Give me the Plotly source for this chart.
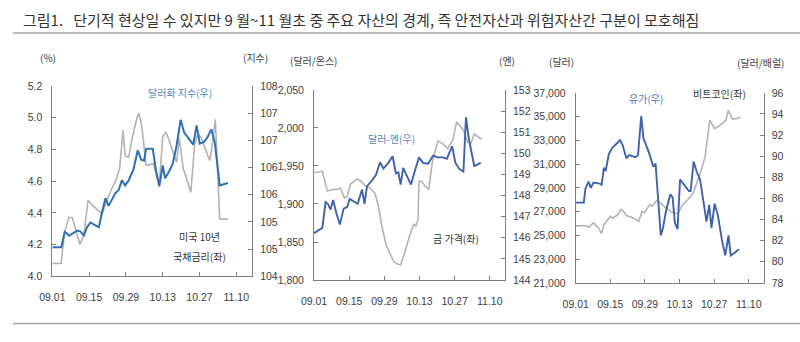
import plotly.graph_objects as go

# ---------------- data (x = days since 2023-09-01) ----------------
ust_days = [0, 3.3, 4.7, 6.3, 7.6, 8.8, 10.5, 12, 13.6, 15.1, 17, 18.9, 20.8, 22, 24, 25.6, 26.9, 27.7, 29,
            30.6, 32.2, 32.9, 34, 35.7, 38.5, 39.5, 40.7, 42, 43.3, 44.8, 46, 47.3, 48.3, 49.8, 51.4, 52.7,
            54.2, 55.5, 56.7, 58.4, 59.9, 60.8, 62, 63.7, 66.8]
ust_10y = [4.08, 4.08, 4.28, 4.37, 4.37, 4.30, 4.20, 4.26, 4.48, 4.45, 4.42, 4.39, 4.48, 4.53, 4.60, 4.68, 4.92,
           4.76, 4.75, 4.89, 5.00, 5.03, 4.95, 4.70, 4.71, 4.64, 4.58, 4.88, 4.91, 4.84, 4.78, 4.72, 4.87, 4.68,
           4.60, 4.53, 4.84, 4.90, 4.87, 4.80, 4.73, 4.82, 4.99, 4.36, 4.36]

dxy_days = [0, 3.4, 4.7, 5.5, 6.3, 7.6, 9.5, 10.7, 12, 13.2, 14.5, 16.4, 17.7, 18.9, 20.2, 21.4, 22.7, 24, 25.2,
            26.5, 27.7, 29, 30.9, 32.5, 33.8, 34.9, 35.7, 38.2, 39.5, 40.7, 42, 42.9, 44.2, 45.8, 47.3, 48.8,
            50.2, 51.7, 53.6, 54.9, 56.1, 57.6, 59, 60.5, 61.8, 63.7, 65.2, 66.8]
dxy = [104.61, 104.61, 104.93, 104.90, 104.85, 104.90, 104.96, 104.94, 104.86, 105.03, 105.13, 105.07, 105.03,
       105.34, 105.64, 105.48, 105.61, 105.75, 105.81, 106.02, 105.91, 106.01, 106.25, 106.65, 106.45, 106.43,
       106.68, 106.68, 106.21, 105.89, 106.33, 106.06, 106.18, 106.36, 106.75, 107.29, 107.02, 106.90, 106.77,
       107.17, 106.79, 106.82, 106.92, 107.09, 106.82, 105.91, 105.93, 105.96]

gold_days = [0, 3.3, 5.3, 7.2, 9.2, 10.5, 12.1, 13.2, 14.5, 17.1, 18.8, 20.4, 22.4, 24.3, 25.7, 27, 28.7, 30.3,
             31.8, 33.2, 34.5, 36.2, 38.2, 39.7, 40.5, 41.4, 41.8, 42.8, 44.1, 45.7, 47.1, 49.3, 51.3, 53.3,
             55.3, 56.8, 59.5, 61.2, 62.5, 63.8, 66.8]
gold = [1941, 1943, 1917, 1919, 1919, 1921, 1908, 1910, 1926, 1933, 1930, 1924, 1921, 1914, 1896, 1871, 1846,
        1834, 1824, 1821, 1820, 1837, 1860, 1873, 1871, 1879, 1930, 1930, 1924, 1919, 1955, 1983, 1979, 1973,
        1985, 2008, 1997, 1981, 1980, 1992, 1985]

jpy_days = [0, 3.3, 4.6, 5.5, 6.6, 7.6, 8.9, 10.3, 11.8, 13.2, 14.2, 15.8, 17.4, 19.1, 20.1, 21.1, 23, 24.7,
            26.3, 27.6, 29.6, 31.3, 32.6, 33.6, 34.5, 35.5, 36.8, 38.6, 39.7, 41.8, 43.4, 45.4, 47.4, 49.3,
            51.3, 52.9, 55, 56.3, 57.9, 59.5, 60.5, 61.6, 63.8, 66.4]
usdjpy = [146.22, 146.47, 147.69, 147.61, 147.34, 147.79, 147.16, 146.63, 147.38, 147.46, 147.84, 147.72,
          147.61, 148.29, 147.61, 148.45, 148.70, 148.98, 149.58, 149.28, 149.55, 149.86, 149.05, 149.10,
          148.52, 149.31, 148.98, 148.52, 148.98, 149.81, 149.55, 149.51, 149.89, 149.81, 149.81, 149.74,
          150.34, 149.55, 149.25, 149.13, 151.71, 150.72, 149.40, 149.55]

btc_days = [0, 3.3, 5.2, 7.2, 9.1, 10.5, 11.4, 12.7, 14, 15, 17, 18.3, 19.2, 20.5, 22.9, 25.5, 26.8, 27.8, 30,
            31, 32.7, 34.6, 36.6, 38.5, 40.1, 41.4, 43.1, 45.7, 47.7, 49, 50.5, 52.3, 54.2, 56.2, 58.2, 60.8,
            61.7, 63.4, 65.3, 66.7]
bitcoin = [25785, 25834, 25700, 26050, 25650, 25160, 25915, 26240, 26600, 26465, 26730, 27190, 27060, 26680,
           26510, 26190, 27000, 26925, 27590, 27455, 27940, 27670, 27270, 27000, 26870, 26870, 27540, 28080,
           28620, 29430, 30300, 31590, 34700, 33980, 34245, 34700, 35520, 34790, 34840, 34970]

oil_days = [0, 3.3, 3.9, 5.2, 6.1, 7.2, 9.8, 10.5, 11.4, 12.1, 13.4, 14.8, 17, 17.9, 18.9, 20.5, 21.6, 24.2,
            25.2, 26.5, 27.4, 29.4, 31.4, 32.3, 34.4, 35.3, 36.6, 38.3, 39.2, 40.1, 41.2, 42.2, 45.8, 46.5,
            47.7, 49, 50.3, 51.6, 52.9, 54, 54.9, 56.2, 57.5, 59.2, 60.5, 61.8, 62.7, 64.6, 66]
oil = [85.6, 85.6, 86.9, 87.6, 87.0, 87.5, 87.4, 87.3, 88.9, 88.6, 90.2, 90.8, 91.3, 91.5, 91.1, 89.8, 90.1,
       89.9, 90.1, 93.8, 91.7, 90.5, 89.0, 89.3, 82.5, 83.2, 84.9, 86.4, 86.1, 83.7, 83.1, 87.8, 86.7, 86.7,
       89.5, 88.5, 87.8, 86.0, 83.8, 85.4, 83.2, 85.5, 84.4, 82.0, 80.6, 82.5, 80.6, 80.9, 81.2]

x_tick_days = [0, 14, 28, 42, 56, 70]
x_tick_text = ["09.01", "09.15", "09.29", "10.13", "10.27", "11.10"]

dxy_tick_text = ["104", "105", "105", "106", "106", "107", "107", "108"]

# ---------------- styling ----------------
W, H = 800, 342
GRAY = "#b3b3b3"
BLUE1 = "#2f6fb3"
BLUE2 = "#3f63a8"
AX = "#7f7f7f"
TXT = "#404040"
NUM_FONT = "Liberation Sans Narrow, Liberation Sans, Arial"
KR_FONT = "Noto Sans CJK KR, Noto Sans"

# right axis of panel 1: 104 → 108 split into 7 equal intervals
dxy_min, dxy_max = 104, 108
dxy_ticks = [dxy_min + i * (dxy_max - dxy_min) / 7 for i in range(8)]


def px(x):
    return x / W


def py(y):
    return 1 - y / H


fig = go.Figure()

fig.add_trace(go.Scatter(x=ust_days, y=ust_10y, mode="lines", line=dict(color=GRAY, width=1.6),
                         xaxis="x", yaxis="y"))
fig.add_trace(go.Scatter(x=dxy_days, y=dxy, mode="lines", line=dict(color=BLUE1, width=2),
                         xaxis="x", yaxis="y2"))
fig.add_trace(go.Scatter(x=gold_days, y=gold, mode="lines", line=dict(color=GRAY, width=1.6),
                         xaxis="x2", yaxis="y3"))
fig.add_trace(go.Scatter(x=jpy_days, y=usdjpy, mode="lines", line=dict(color=BLUE2, width=1.9),
                         xaxis="x2", yaxis="y4"))
fig.add_trace(go.Scatter(x=btc_days, y=bitcoin, mode="lines", line=dict(color=GRAY, width=1.6),
                         xaxis="x3", yaxis="y5"))
fig.add_trace(go.Scatter(x=oil_days, y=oil, mode="lines", line=dict(color=BLUE2, width=1.9),
                         xaxis="x3", yaxis="y6"))

common_ax = dict(showline=True, linecolor=AX, linewidth=1, ticks="inside", ticklen=4, tickcolor=AX,
                 showgrid=False, zeroline=False, tickfont=dict(family=NUM_FONT, size=10.5, color=TXT))

panels = [
    dict(x0=40, x1=243, y0=83, y1=280),
    dict(x0=306, x1=500, y0=87, y1=284),
    dict(x0=572, x1=763, y0=90, y1=287),
]

xr = [0, 76]
for i, p in enumerate(panels):
    name = "xaxis" if i == 0 else f"xaxis{i + 1}"
    fig.layout[name] = dict(common_ax, domain=[px(p["x0"]), px(p["x1"])], range=xr,
                            tickvals=x_tick_days, ticktext=x_tick_text,
                            anchor="y" if i == 0 else f"y{2 * i + 1}", ticklabelstandoff=11)

fig.update_layout(
    yaxis=dict(common_ax, domain=[py(280), py(83)], range=[4.0, 5.2], dtick=0.2, tickformat=".1f",
               anchor="x", ticklabelstandoff=7),
    yaxis2=dict(common_ax, domain=[py(280), py(83)], range=[dxy_min, dxy_max], tickvals=dxy_ticks,
                ticktext=dxy_tick_text, overlaying="y", side="right", anchor="x", ticklabelstandoff=5),
    yaxis3=dict(common_ax, domain=[py(284), py(87)], range=[1800, 2050], dtick=50, tickformat=",d",
                anchor="x2", ticklabelstandoff=7),
    yaxis4=dict(common_ax, domain=[py(284), py(87)], range=[144, 153], dtick=1,
                overlaying="y3", side="right", anchor="x2", ticklabelstandoff=5),
    yaxis5=dict(common_ax, domain=[py(287), py(90)], range=[21000, 37000], tick0=21000, dtick=2000,
                tickformat=",d", anchor="x3", ticklabelstandoff=7),
    yaxis6=dict(common_ax, domain=[py(287), py(90)], range=[78, 96], dtick=2,
                overlaying="y5", side="right", anchor="x3", ticklabelstandoff=5),
)

annotations = [
    dict(text="그림1.   단기적 현상일 수 있지만 9 월~11 월초 중 주요 자산의 경계, 즉 안전자산과 위험자산간 구분이 모호해짐",
         x=px(8), y=py(14), xanchor="left", font=dict(size=15, color="#333333")),
    dict(text="(%)", x=px(36), y=py(53), font=dict(size=10, color=TXT)),
    dict(text="(지수)", x=px(246), y=py(53), font=dict(size=10, color=TXT)),
    dict(text="(달러/온스)", x=px(305), y=py(56), font=dict(size=10, color=TXT)),
    dict(text="(엔)", x=px(502), y=py(56), font=dict(size=10, color=TXT)),
    dict(text="(달러)", x=px(558), y=py(58), font=dict(size=10, color=TXT)),
    dict(text="(달러/배럴)", x=px(760), y=py(59), font=dict(size=10, color=TXT)),
    dict(text="달러화 지수(우)", x=px(170), y=py(90), font=dict(size=10, color="#4f86c6")),
    dict(text="미국 10년", x=px(190), y=py(239), font=dict(size=10, color="#333333")),
    dict(text="국채금리(좌)", x=px(190), y=py(260), font=dict(size=10, color="#333333")),
    dict(text="달러-엔(우)", x=px(385), y=py(137), font=dict(size=10, color="#5b7fc0")),
    dict(text="금 가격(좌)", x=px(450), y=py(241), font=dict(size=10, color="#333333")),
    dict(text="유가(우)", x=px(643), y=py(96), font=dict(size=10, color="#4d72b8")),
    dict(text="비트코인(좌)", x=px(718), y=py(91), font=dict(size=10, color="#333333")),
]
for a in annotations:
    a.update(xref="paper", yref="paper", showarrow=False, yanchor="middle")
    a.setdefault("xanchor", "center")

fig.update_layout(
    annotations=annotations,
    shapes=[
        dict(type="line", xref="paper", yref="paper", x0=0, x1=1, y0=py(28), y1=py(28),
             line=dict(color="#a6a6a6", width=1.5)),
        dict(type="line", xref="paper", yref="paper", x0=0, x1=1, y0=py(329), y1=py(329),
             line=dict(color="#a6a6a6", width=1.5)),
    ],
    width=W, height=H, margin=dict(l=0, r=0, t=0, b=0),
    paper_bgcolor="white", plot_bgcolor="white", showlegend=False,
    font=dict(family=KR_FONT, color=TXT),
)

fig.write_html("out.html", config={"displayModeBar": False})
